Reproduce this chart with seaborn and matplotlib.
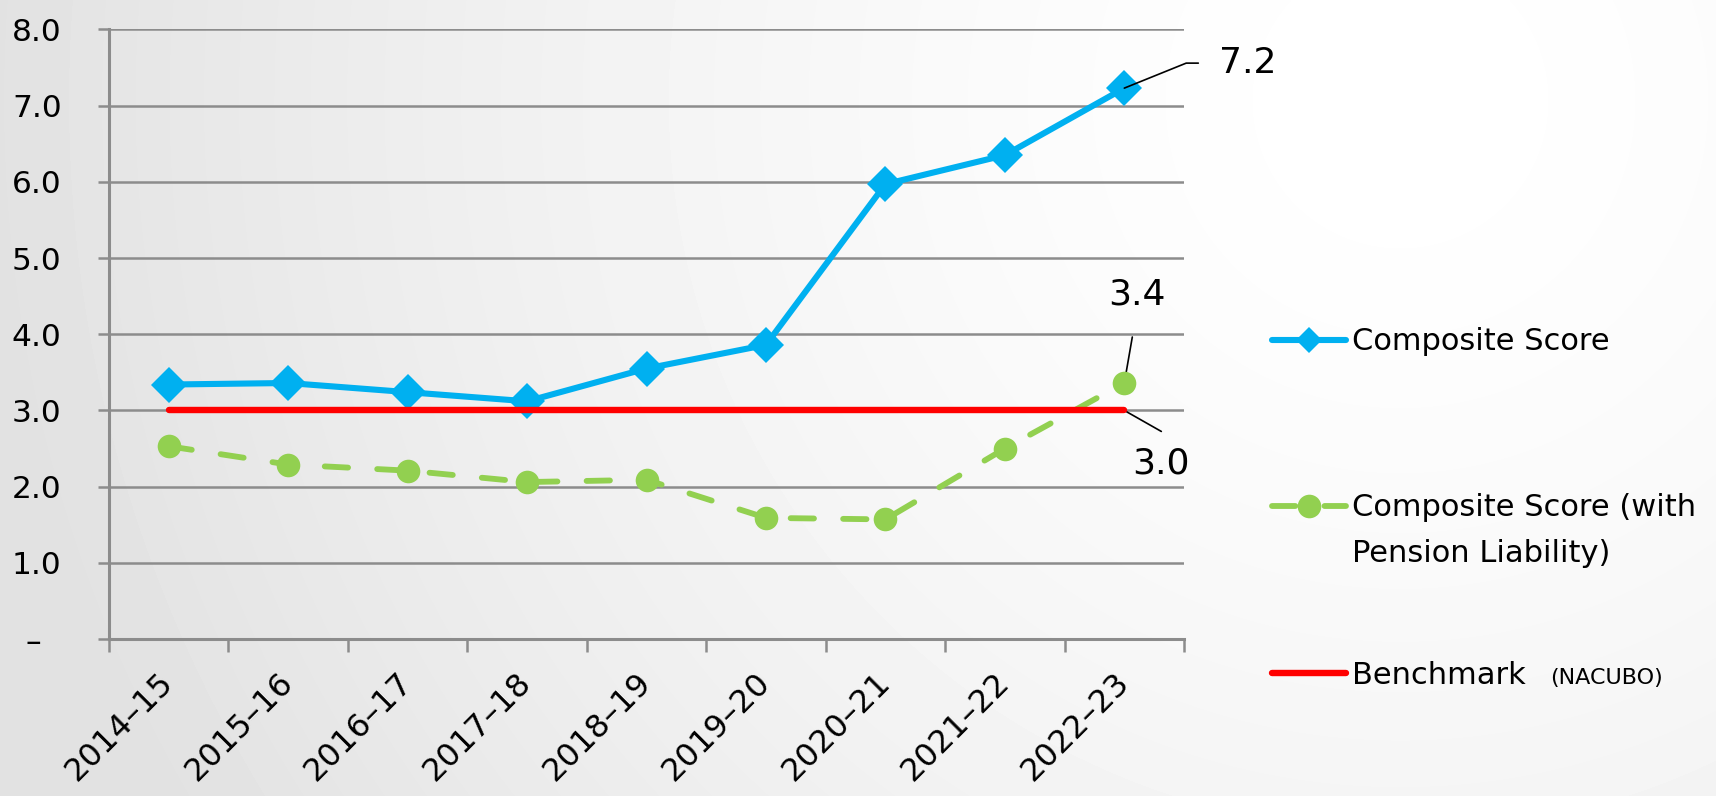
import numpy as np
import pandas as pd
import matplotlib
matplotlib.use("Agg")
import matplotlib.pyplot as plt
import seaborn as sns

# ---- data ----
periods = ['2014–15', '2015–16', '2016–17', '2017–18', '2018–19',
           '2019–20', '2020–21', '2021–22', '2022–23']
composite = [3.34, 3.36, 3.24, 3.12, 3.55, 3.86, 5.97, 6.35, 7.23]
pension = [2.53, 2.29, 2.21, 2.06, 2.09, 1.59, 1.57, 2.50, 3.36]
benchmark = [3.0] * len(periods)
y_ticks = [0, 1, 2, 3, 4, 5, 6, 7, 8]
y_labels = ['–  ', '1.0', '2.0', '3.0', '4.0', '5.0', '6.0', '7.0', '8.0']

BLUE = '#00B0F0'
GREEN = '#92D050'
RED = '#FF0000'
GRID = '#8C8C8C'

sns.set_theme(style="white")
plt.rcParams['font.family'] = ['DejaVu Sans']
plt.rcParams['text.color'] = 'black'
plt.rcParams['xtick.color'] = 'black'
plt.rcParams['ytick.color'] = 'black'

df = pd.DataFrame({'period': periods, 'composite': composite,
                   'pension': pension, 'benchmark': benchmark})

fig = plt.figure(figsize=(17.16, 7.96), dpi=100)

# soft grey-to-white background like the slide
bg = fig.add_axes([0, 0, 1, 1], zorder=-10)
yy, xx = np.mgrid[0:796, 0:1716]
d = np.hypot(xx - 1400, yy - 100) / 1400
shade = 255 - 29 * np.clip(d, 0, 1) ** 1.5
bg.imshow(shade, cmap='gray', vmin=0, vmax=255, aspect='auto',
          extent=[0, 1, 0, 1], origin='upper')
bg.axis('off')

ax = fig.add_axes([0.0635, 0.1972, 0.6265, 0.7658])
ax.set_facecolor('none')

sns.lineplot(data=df, x='period', y='composite', ax=ax, sort=False,
             color=BLUE, linewidth=4.4, marker='D', markersize=18,
             markeredgewidth=0, markeredgecolor=BLUE,
             solid_capstyle='round', zorder=3)
sns.lineplot(data=df, x='period', y='pension', ax=ax, sort=False,
             color=GREEN, linewidth=4.2, linestyle=(0, (4, 5)), marker='o',
             markersize=17, markeredgewidth=0, markeredgecolor=GREEN,
             dash_capstyle='round', zorder=4)
sns.lineplot(data=df, x='period', y='benchmark', ax=ax, sort=False,
             color=RED, linewidth=4.6, solid_capstyle='round', zorder=5)

l_comp, l_pen, l_bench = ax.lines[0], ax.lines[1], ax.lines[2]

# axes styling
ax.set_xlim(-0.5, len(periods) - 0.5)
ax.set_ylim(0, 8)
ax.set_xlabel('')
ax.set_ylabel('')
ax.set_yticks(y_ticks)
ax.set_yticklabels(y_labels)
ax.set_xticks(range(len(periods)))
ax.set_xticklabels(periods, rotation=45, ha='right', va='center',
                   rotation_mode='anchor')
ax.set_xticks(np.arange(-0.5, len(periods), 1), minor=True)

ax.yaxis.grid(True, color=GRID, lw=1.8)
ax.xaxis.grid(False)
ax.set_axisbelow(True)
for side in ['top', 'right']:
    ax.spines[side].set_visible(False)
for side in ['left', 'bottom']:
    ax.spines[side].set_color(GRID)
    ax.spines[side].set_linewidth(2.2)

ax.tick_params(axis='x', which='major', bottom=True, length=0, pad=28,
               labelsize=23, labelcolor='black')
ax.tick_params(axis='x', which='minor', bottom=True, length=9.5, width=1.8,
               color=GRID, direction='out')
ax.tick_params(axis='y', left=True, length=8, width=1.8, color=GRID,
               direction='out', pad=26, labelsize=22.5, labelcolor='black')

# value call-outs on the last period
n = len(periods) - 1
ax.annotate('7.2', xy=(n, composite[-1]), xytext=(123, 25),
            textcoords='offset pixels', ha='center', va='center',
            fontsize=26, color='black')
ax.annotate('', xy=(n, composite[-1]), xytext=(74, 25),
            textcoords='offset pixels',
            arrowprops=dict(arrowstyle='-', color='black', lw=1.2,
                            shrinkA=0, shrinkB=0,
                            connectionstyle='angle,angleA=0,angleB=22,rad=0'))
ax.annotate('3.4', xy=(n, pension[-1]), xytext=(13, 89),
            textcoords='offset pixels', ha='center', va='center',
            fontsize=26, color='black')
ax.annotate('', xy=(n, pension[-1]), xytext=(8, 46),
            textcoords='offset pixels',
            arrowprops=dict(arrowstyle='-', color='black', lw=1.2,
                            shrinkA=0, shrinkB=0))
ax.annotate('3.0', xy=(n, benchmark[-1]), xytext=(37, -53),
            textcoords='offset pixels', ha='center', va='center',
            fontsize=26, color='black')
ax.annotate('', xy=(n, benchmark[-1]), xytext=(37, -21),
            textcoords='offset pixels',
            arrowprops=dict(arrowstyle='-', color='black', lw=1.2,
                            shrinkA=0, shrinkB=0))

# legend, one entry at a time so the rows sit where the slide has them
leg_kw = dict(loc='center left', frameon=False, fontsize=22,
              handlelength=2.43, handletextpad=0.2, borderpad=0,
              borderaxespad=0, labelcolor='black')
fig.legend(handles=[l_comp], labels=['Composite Score'], markerscale=0.72,
           bbox_to_anchor=(1272 / 1716, 1 - 342 / 796), **leg_kw)
fig.legend(handles=[l_pen], labels=['Composite Score (with'],
           bbox_to_anchor=(1272 / 1716, 1 - 508 / 796), **leg_kw)
fig.legend(handles=[l_bench], labels=['Benchmark'],
           bbox_to_anchor=(1272 / 1716, 1 - 675 / 796), **leg_kw)
fig.text(1352 / 1716, 1 - 553 / 796, 'Pension Liability)', fontsize=22,
         va='center', ha='left', color='black')
fig.text(1550 / 1716, 1 - 678 / 796, '(NACUBO)', fontsize=16,
         va='center', ha='left', color='black')

fig.savefig('out.png', dpi=100)
